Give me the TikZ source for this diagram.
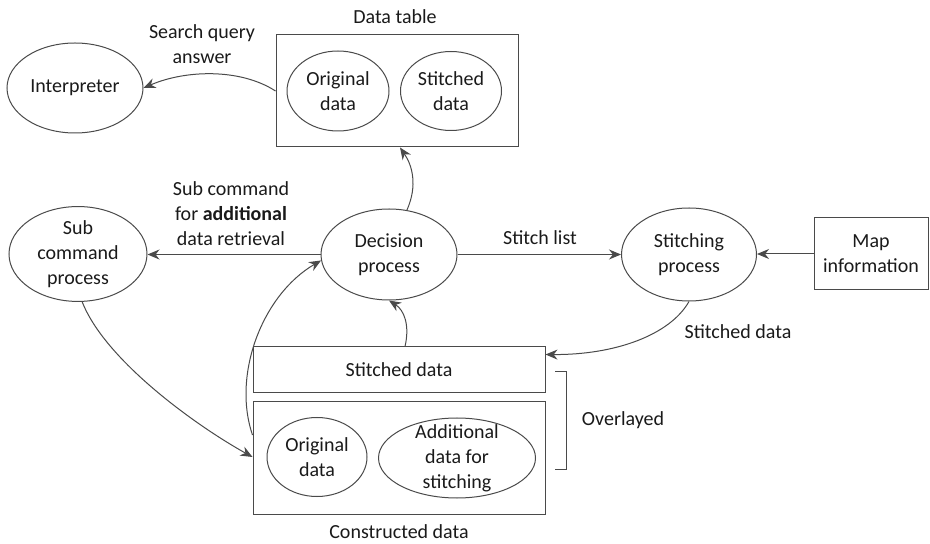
\documentclass[tikz,border=0pt]{standalone}
\usepackage{fontspec}
\setmainfont{Carlito}
\usetikzlibrary{shapes.geometric,arrows.meta,calc}
\definecolor{linec}{HTML}{4A4A4A}
\definecolor{txtc}{HTML}{1A1A1A}
\begin{document}
\begin{tikzpicture}[x=0.5pt,y=-0.5pt,
  every node/.style={font=\fontsize{10}{12.5}\selectfont, text=txtc, align=center},
  ell/.style={draw=linec, line width=0.5pt, ellipse, inner sep=0pt},
  boxn/.style={draw=linec, line width=0.5pt, rectangle, inner sep=0pt},
  arr/.style={draw=linec, line width=0.5pt, -{Stealth[length=6pt,width=5pt]}}]
\useasboundingbox (0,0) rectangle (930,544);

% nodes
\node[ell, minimum width=68pt, minimum height=45pt] (interp) at (75,88) {Interpreter};
\node[boxn, minimum width=121pt, minimum height=56pt] (dt) at (397,91) {};
\node[ell, minimum width=51pt, minimum height=40pt] (dto) at (338,91) {Original\\data};
\node[ell, minimum width=50.5pt, minimum height=39.5pt] (dts) at (451,91) {Stitched\\data};
\node (dtlab) at (395,17) {Data table};

\node[ell, minimum width=69pt, minimum height=46pt] (sub) at (78,254) {Sub\\command\\process};
\node[ell, minimum width=68pt, minimum height=45.5pt] (dec) at (389,254.5) {Decision\\process};
\node[ell, minimum width=67.5pt, minimum height=46.5pt] (stitch) at (689,254.5) {Stitching\\process};
\node[boxn, minimum width=57pt, minimum height=36pt] (map) at (871,254) {Map\\information};

\node[boxn, minimum width=146pt, minimum height=23pt] (sd) at (399,370) {Stitched data};
\node[boxn, minimum width=146pt, minimum height=56pt] (cd) at (399,458) {};
\node[ell, minimum width=50pt, minimum height=39.5pt] (cdo) at (317,457) {Original\\data};
\node[ell, minimum width=78.5pt, minimum height=40pt] (cda) at (457,458) {};
\node (cdatxt) at (cda) {Additional\\data for\\stitching};
\node (cdlab) at (399,532) {Constructed data};

% labels
\node (lsq) at (202,44) {Search query\\answer};
\node (lsub) at (231,214) {Sub command\\for \textbf{additional}\\data retrieval};
\node (lsl) at (540,238) {Stitch list};
\node (lsd) at (738,332) {Stitched data};
\node (lov) at (623,420) {Overlayed};

% bracket
\coordinate (bA) at (555,372);
\coordinate (bB) at (555,469);
\draw[draw=linec, line width=0.5pt] (bA) -- ++(11,0) -- ++(0,97) -- (bB);

% connectors
\draw[arr] (dt.west) .. controls (240,68) and (185,70) .. (interp.east);
\draw[arr] (dec.68) .. controls (418,185) and (412,165) .. ($(dt.south)+(3,0)$);
\draw[arr] (dec.west) -- (sub.east |- dec.west);
\draw[arr] (dec.east) -- (stitch.west |- dec.east);
\draw[arr] (map.west) -- (stitch.east |- map.west);
\draw[arr] (stitch.south) .. controls (670,335) and (615,355) .. ($(sd.north east)+(0,8)$);
\draw[arr] ($(sd.north)+(6,0)$) .. controls (410,325) and (404,310) .. (dec.south);
\draw[arr] ($(cd.west)+(0,-23)$) .. controls (232,375) and (262,295) .. (dec.185);
\draw[arr] (sub.-85) .. controls (105,360) and (195,425) .. ($(cd.west)+(0,-1)$);
\end{tikzpicture}
\end{document}
